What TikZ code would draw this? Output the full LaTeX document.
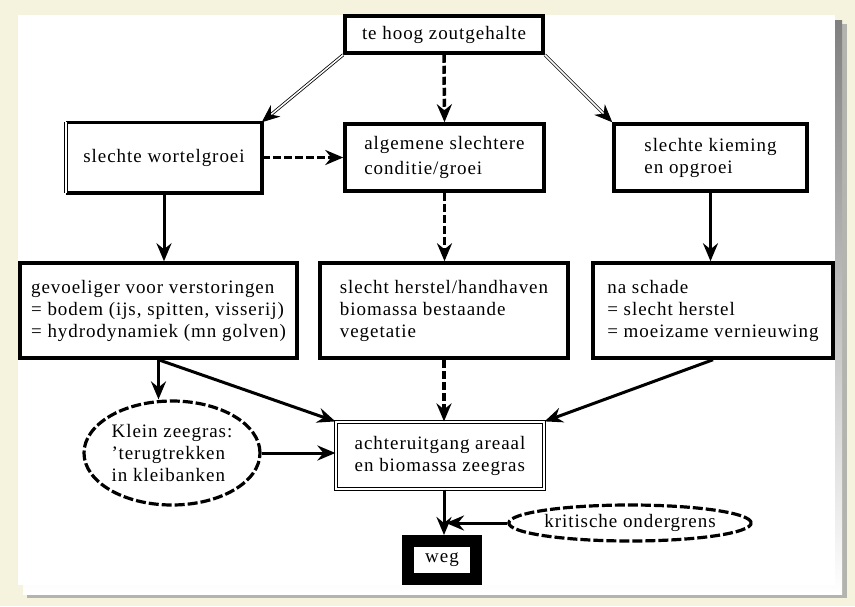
\documentclass[tikz,border=0pt]{standalone}
\usepackage{fontspec}
\setmainfont{Liberation Serif}[LetterSpace=5]
\usetikzlibrary{shapes.geometric, arrows.meta}
\definecolor{paper}{RGB}{245,242,222}
\definecolor{shade}{RGB}{88,88,78}

\begin{document}
\begin{tikzpicture}[x=1pt, y=-1pt,
  every node/.style={inner sep=2pt, font=\fontsize{19}{22}\selectfont},
  box/.style={draw, line width=3.5pt, align=left},
  dblbox/.style={draw, double, double distance=2pt, line width=1.2pt, align=left},
  blob/.style={ellipse, draw, line width=3.2pt, dash pattern=on 10pt off 3pt,
               align=left, inner sep=0pt},
  tip/.style={-{Stealth[length=18pt, width=15pt, inset=6pt]}},
  arrow/.style={tip, line width=3pt},
  dasharrow/.style={tip, line width=3.5pt, dash pattern=on 8pt off 3pt},
  dblarrow/.style={tip, double, double distance=1.5pt, line width=0.8pt}]
\useasboundingbox (0,0) rectangle (855,606);
% paper, shadow and panel
\fill[paper] (0,0) rectangle (855,606);
\fill[shade!45] (27,24) rectangle (847,598);
\fill[shade] (23,20) rectangle (842,594);
\fill[white] (18,15) rectangle (835,585);

% top row
\node[box, minimum width=198pt, minimum height=37pt] (top) at (444,34.5)
  {te hoog zoutgehalte};
\node[box, draw=none, minimum width=192pt, minimum height=67pt] (wortel)
  at (164,157.5) {slechte wortelgroei};
\draw[line width=3.5pt] (wortel.north west) -| (wortel.south east)
  -- (wortel.south west);
\draw[double, double distance=2pt, line width=1pt] (wortel.south west)
  -- (wortel.north west);
\node[box, minimum width=199pt, minimum height=67pt] (algemene)
  at (444.5,157.5) {algemene slechtere\\[3pt]conditie/groei};
\node[box, minimum width=193pt, minimum height=67pt] (kieming)
  at (710.5,157.5) {slechte kieming\\en opgroei};

% middle row
\node[box, minimum width=277pt, minimum height=95pt] (gevoeliger)
  at (158.5,310.5) {gevoeliger voor verstoringen\\= bodem (ijs, spitten, visserij)\\= hydrodynamiek (mn golven)};
\node[box, minimum width=248pt, minimum height=95pt] (herstel)
  at (444,310.5) {slecht herstel/handhaven\\biomassa bestaande\\vegetatie};
\node[box, minimum width=240pt, minimum height=95pt] (schade)
  at (713,310.5) {na schade\\= slecht herstel\\= moeizame vernieuwing};

% bottom
\node[blob, minimum width=176pt, minimum height=104pt] (klein) at (172,453)
  {Klein zeegras:\\'terugtrekken\\in kleibanken};
\node[dblbox, minimum width=208pt, minimum height=67pt] (achteruit)
  at (440,455.5) {achteruitgang areaal\\en biomassa zeegras};
\node[blob, minimum width=206pt, minimum height=36pt] (kritisch) at (630,523)
  {kritische ondergrens};
\node[draw, line width=12pt, minimum width=68pt, minimum height=38pt] (weg)
  at (442,560) {weg};

% connectors
\draw[dblarrow] (top.south west) -- (wortel.north east);
\draw[dasharrow] (top.south) -- (algemene.north);
\draw[dblarrow] (top.south east) -- (kieming.north west);
\draw[dasharrow] (wortel.east) -- (algemene.west);
\draw[arrow] (wortel.south) -- (gevoeliger.north -| wortel.south);
\draw[dasharrow] (algemene.south) -- (herstel.north -| algemene.south);
\draw[arrow] (kieming.south) -- (schade.north -| kieming.south);
\draw[arrow] (gevoeliger.south) -- (klein.north -| gevoeliger.south);
\draw[arrow] (gevoeliger.south) -- (achteruit.north west);
\draw[dasharrow] (herstel.south) -- (achteruit.north -| herstel.south);
\draw[arrow] (schade.south) -- (achteruit.north east);
\draw[arrow] (klein.east) -- (klein.east -| achteruit.west);
\draw[arrow] (achteruit.south -| herstel.south) -- (weg.north -| herstel.south);
\draw[arrow, shorten >=2pt] (kritisch.west) -- (kritisch.west -| herstel.south);
\end{tikzpicture}
\end{document}
